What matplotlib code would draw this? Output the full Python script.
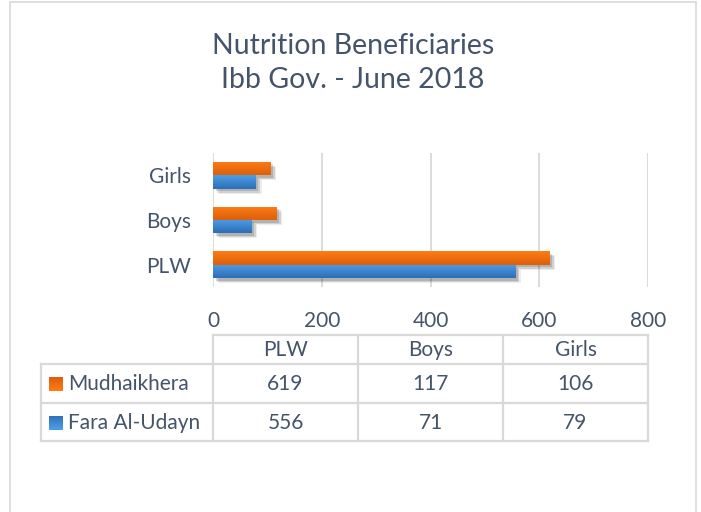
import numpy as np
import matplotlib
matplotlib.use("Agg")
import matplotlib.pyplot as plt
import matplotlib.patheffects as pe
from matplotlib.colors import LinearSegmentedColormap
from matplotlib.patches import Rectangle


# ============================================================
# Data
# ============================================================

CATEGORIES = ["PLW", "Boys", "Girls"]
SERIES_NAMES = ["Mudhaikhera", "Fara Al-Udayn"]
MUDHAIKHERA = [619, 117, 106]
FARA_AL_UDAYN = [556, 71, 79]
X_TICKS = [0, 200, 400, 600, 800]

TITLE = "Nutrition Beneficiaries\nIbb Gov. - June 2018"


# ============================================================
# Style
# ============================================================

W_PX, H_PX = 701, 512
DPI = 100
FONT = ["Lato", "DejaVu Sans"]
TEXT_COLOR = "#44546A"
GRID_COLOR = "#D9D9D9"
FS = 15

ORANGE_TOP, ORANGE_BOTTOM = "#FF7C16", "#DC5F0A"
BLUE_TOP, BLUE_BOTTOM = "#4C9EE6", "#2E6EB6"

# plot area in pixels (left, top, right, bottom)
PLOT_L, PLOT_T, PLOT_R, PLOT_B = 213, 153, 648, 287
# data table in pixels
TABLE_L = 41
ROW_EDGES = [335, 364, 403, 441]

plt.rcParams["font.family"] = FONT


def fx(x):
    return x / W_PX


def fy(y):
    return 1 - y / H_PX


def gradient_fill(ax, patch, top, bottom):
    """Paint a vertical gradient inside a bar patch."""
    cmap = LinearSegmentedColormap.from_list("g", [top, bottom])
    x0, y0 = patch.get_x(), patch.get_y()
    w, h = patch.get_width(), patch.get_height()
    grad = np.linspace(0, 1, 64).reshape(-1, 1)
    im = ax.imshow(grad, extent=[x0, x0 + w, y0, y0 + h], cmap=cmap,
                   aspect="auto", origin="upper", zorder=3,
                   interpolation="bicubic")
    im.set_clip_path(patch)


fig = plt.figure(figsize=(W_PX / DPI, H_PX / DPI), dpi=DPI)

# chart frame
fig.patches.append(Rectangle((fx(10), fy(530)), fx(686), 528 / H_PX,
                             transform=fig.transFigure, fill=False,
                             edgecolor=GRID_COLOR, linewidth=1.2))

fig.text(fx(353), fy(63), TITLE, ha="center", va="center",
         fontsize=20.5, color=TEXT_COLOR, linespacing=1.42)

# ------------------------------------------------------------
# Bar chart
# ------------------------------------------------------------
ax = fig.add_axes([fx(PLOT_L), fy(PLOT_B), (PLOT_R - PLOT_L) / W_PX,
                   (PLOT_B - PLOT_T) / H_PX])

y = np.arange(len(CATEGORIES))
bar_h = 0.30
shadow = [pe.SimplePatchShadow(offset=(4.0, -3.6), shadow_rgbFace="black", alpha=0.07),
          pe.SimplePatchShadow(offset=(3.0, -2.8), shadow_rgbFace="black", alpha=0.12),
          pe.SimplePatchShadow(offset=(1.8, -1.8), shadow_rgbFace="black", alpha=0.14),
          pe.Normal()]

bars_o = ax.barh(y + bar_h / 2, MUDHAIKHERA, height=bar_h, color=ORANGE_TOP,
                 zorder=2, path_effects=shadow)
bars_b = ax.barh(y - bar_h / 2, FARA_AL_UDAYN, height=bar_h, color=BLUE_TOP,
                 zorder=2, path_effects=shadow)
for p in bars_o:
    gradient_fill(ax, p, ORANGE_TOP, ORANGE_BOTTOM)
for p in bars_b:
    gradient_fill(ax, p, BLUE_TOP, BLUE_BOTTOM)

ax.set_xlim(0, 800)
ax.set_ylim(-0.5, len(CATEGORIES) - 0.5)
ax.set_aspect("auto")
ax.set_xticks(X_TICKS)
ax.set_yticks(y)
ax.set_yticklabels(CATEGORIES)
ax.grid(axis="x", color=GRID_COLOR, linewidth=1.3, zorder=0)
ax.set_axisbelow(True)
for s in ax.spines.values():
    s.set_visible(False)
ax.tick_params(axis="both", length=0, labelsize=FS, labelcolor=TEXT_COLOR)
ax.tick_params(axis="x", pad=17)
ax.tick_params(axis="y", pad=16)

# ------------------------------------------------------------
# Data table below the chart
# ------------------------------------------------------------
col_edges = np.linspace(PLOT_L, PLOT_R, len(CATEGORIES) + 1)
tax = fig.add_axes([0, 0, 1, 1])
tax.axis("off")

line_kw = dict(color=GRID_COLOR, linewidth=1.6)
# horizontal lines
tax.plot([PLOT_L, PLOT_R], [ROW_EDGES[0]] * 2, **line_kw)
for yy in ROW_EDGES[1:]:
    tax.plot([TABLE_L, PLOT_R], [yy] * 2, **line_kw)
# vertical lines
tax.plot([TABLE_L, TABLE_L], [ROW_EDGES[1], ROW_EDGES[-1]], **line_kw)
for xx in col_edges:
    tax.plot([xx, xx], [ROW_EDGES[0], ROW_EDGES[-1]], **line_kw)

centers = (col_edges[:-1] + col_edges[1:]) / 2
header_y = (ROW_EDGES[0] + ROW_EDGES[1]) / 2
for cx, cat in zip(centers, CATEGORIES):
    tax.text(cx, header_y + 1, cat, ha="center", va="center",
             fontsize=FS, color=TEXT_COLOR)

rows = [(SERIES_NAMES[0], MUDHAIKHERA, ORANGE_TOP, ORANGE_BOTTOM),
        (SERIES_NAMES[1], FARA_AL_UDAYN, BLUE_TOP, BLUE_BOTTOM)]
for i, (name, vals, c_top, c_bot) in enumerate(rows):
    ry = (ROW_EDGES[i + 1] + ROW_EDGES[i + 2]) / 2
    sq = Rectangle((49, ry - 6.5), 14, 14, transform=tax.transData,
                   linewidth=0, facecolor=c_top)
    tax.add_patch(sq)
    grad = np.linspace(0, 1, 32).reshape(-1, 1)
    im = tax.imshow(grad, extent=[49, 63, ry + 7.5, ry - 6.5],
                    cmap=LinearSegmentedColormap.from_list("s", [c_top, c_bot]),
                    aspect="auto", origin="lower", zorder=3)
    im.set_clip_path(sq)
    tax.text(68, ry + 1, name, ha="left", va="center",
             fontsize=FS, color=TEXT_COLOR)
    for cx, v in zip(centers, vals):
        tax.text(cx, ry + 1, f"{v}", ha="center", va="center",
                 fontsize=FS, color=TEXT_COLOR)

tax.set_xlim(0, W_PX)
tax.set_ylim(H_PX, 0)
tax.set_aspect("auto")

fig.savefig("out.png", dpi=DPI)
